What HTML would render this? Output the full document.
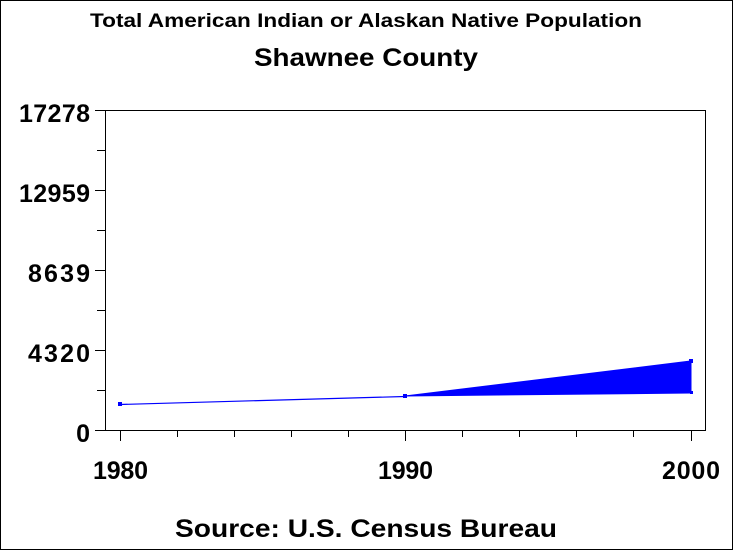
<!DOCTYPE html>
<html><head><style>
html,body{margin:0;padding:0;background:#fff;}
svg{display:block;font-family:"Liberation Sans",Arial,sans-serif;}
</style></head><body>
<svg width="733" height="550" viewBox="0 0 733 550">
<rect x="0.5" y="0.5" width="732" height="549" fill="#fff" stroke="#000"/>
<text x="366" y="27" font-size="19" font-weight="bold" text-anchor="middle" textLength="552" lengthAdjust="spacingAndGlyphs">Total American Indian or Alaskan Native Population</text>
<text x="366" y="66" font-size="25" font-weight="bold" text-anchor="middle" textLength="224" lengthAdjust="spacingAndGlyphs">Shawnee County</text>
<rect x="105.5" y="110.5" width="600" height="320" fill="none" stroke="#000" stroke-width="1"/>
<g stroke="#000" stroke-width="1">
<line x1="95" y1="110.5" x2="105" y2="110.5"/>
<line x1="97" y1="150.5" x2="105" y2="150.5"/>
<line x1="95" y1="190.5" x2="105" y2="190.5"/>
<line x1="97" y1="230.5" x2="105" y2="230.5"/>
<line x1="95" y1="270.5" x2="105" y2="270.5"/>
<line x1="97" y1="310.5" x2="105" y2="310.5"/>
<line x1="95" y1="350.5" x2="105" y2="350.5"/>
<line x1="97" y1="390.5" x2="105" y2="390.5"/>
<line x1="95" y1="430.5" x2="105" y2="430.5"/>
<line x1="120.5" y1="430" x2="120.5" y2="441"/>
<line x1="177.5" y1="430" x2="177.5" y2="437"/>
<line x1="234.5" y1="430" x2="234.5" y2="437"/>
<line x1="291.5" y1="430" x2="291.5" y2="437"/>
<line x1="348.5" y1="430" x2="348.5" y2="437"/>
<line x1="405.5" y1="430" x2="405.5" y2="441"/>
<line x1="462.5" y1="430" x2="462.5" y2="437"/>
<line x1="519.5" y1="430" x2="519.5" y2="437"/>
<line x1="576.5" y1="430" x2="576.5" y2="437"/>
<line x1="633.5" y1="430" x2="633.5" y2="437"/>
<line x1="691.5" y1="430" x2="691.5" y2="441"/>
</g>
<g font-size="25" font-weight="bold" text-anchor="end" lengthAdjust="spacingAndGlyphs">
<text x="90" y="122" textLength="71">17278</text>
<text x="90" y="202" textLength="71">12959</text>
<text x="90" y="282" textLength="62">8639</text>
<text x="90" y="362" textLength="62">4320</text>
<text x="90" y="442" textLength="15">0</text>
</g>
<g font-size="25" font-weight="bold" lengthAdjust="spacingAndGlyphs">
<text x="93" y="479" textLength="55">1980</text>
<text x="378" y="479" textLength="55">1990</text>
<text x="662" y="479" textLength="58">2000</text>
</g>
<line x1="120" y1="404.5" x2="405" y2="396.5" stroke="#0000ff" stroke-width="1.2"/>
<polygon points="405,396 691,361 691,393" fill="#0000ff" stroke="#0000ff"/>
<g fill="#0000ff">
<rect x="118" y="402" width="4" height="4"/>
<rect x="403" y="394" width="4" height="4"/>
<rect x="689" y="359" width="4" height="4"/>
<rect x="690" y="391" width="3" height="3"/>
</g>
<text x="366" y="537" font-size="25" font-weight="bold" text-anchor="middle" textLength="382" lengthAdjust="spacingAndGlyphs">Source: U.S. Census Bureau</text>
</svg>
</body></html>
